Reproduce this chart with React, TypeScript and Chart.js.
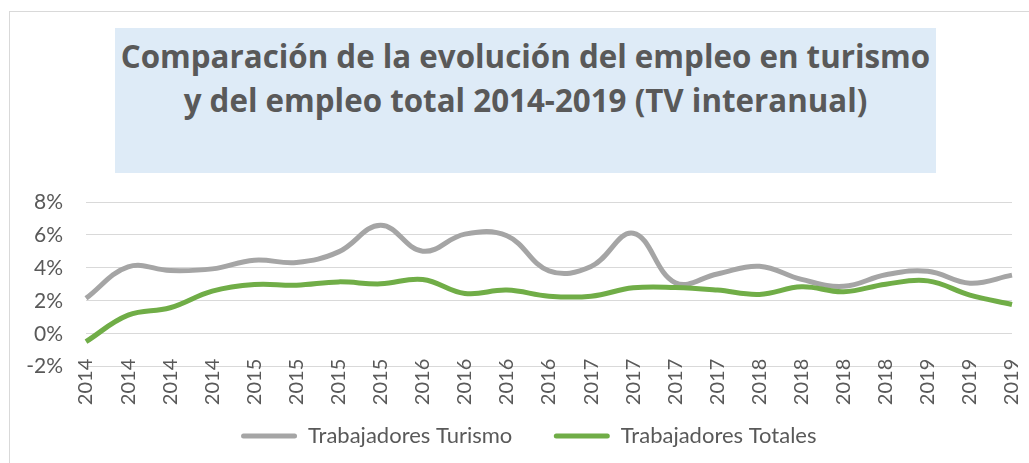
import React, { useEffect, useRef } from "react";
import { Chart, registerables } from "chart.js";

Chart.register(...registerables);

const categories = [
  "2014", "2014", "2014", "2014",
  "2015", "2015", "2015", "2015",
  "2016", "2016", "2016", "2016",
  "2017", "2017", "2017", "2017",
  "2018", "2018", "2018", "2018",
  "2019", "2019", "2019",
];

const turismo = [
  2.15, 4.06, 3.84, 3.94, 4.47, 4.33, 4.97, 6.59, 5.01, 6.05, 5.95, 3.82,
  4.08, 6.1, 3.1, 3.63, 4.1, 3.3, 2.88, 3.58, 3.8, 3.07, 3.56,
];

const totales = [
  -0.48, 1.13, 1.58, 2.59, 2.99, 2.95, 3.15, 3.03, 3.3, 2.45, 2.65, 2.28,
  2.28, 2.79, 2.81, 2.65, 2.39, 2.85, 2.55, 3.01, 3.21, 2.35, 1.78,
];

const yTicks = [-2, 0, 2, 4, 6, 8];

const seriesNames = ["Trabajadores Turismo", "Trabajadores Totales"];

const titleLines = [
  "Comparación de la evolución del empleo en turismo",
  "y del empleo total 2014-2019 (TV interanual)",
];

const TEXT = "#595959";
const FONT = "Lato, 'Open Sans', sans-serif";
const TITLE_FONT = "'Open Sans', Lato, sans-serif";

export default function App() {
  const ref = useRef<HTMLCanvasElement>(null);

  useEffect(() => {
    if (!ref.current) return;
    const legendPad = 41.5;
    const legendFont = 22;
    const legendCenterY = 436;
    const legendCenterX = 528.75;
    const chartBottom = 366.7;

    const legendPlace = {
      id: "legendPlace",
      afterLayout(chart: any) {
        const lg = chart.legend;
        if (!lg) return;
        const h = lg.bottom - lg.top;
        const top = legendCenterY - legendFont / 2 - legendPad;
        lg.top = top;
        lg.bottom = top + h;
        const dx = legendCenterX - (lg.left + lg.right) / 2;
        lg.left += dx;
        lg.right += dx;
      },
    };

    const legendHeight = legendFont + legendPad + 10;
    const padBottom = 463 - chartBottom - legendHeight;

    const chart = new Chart(ref.current, {
      type: "line",
      data: {
        labels: categories,
        datasets: [
          {
            label: seriesNames[0],
            data: turismo,
            borderColor: "#A5A5A5",
            backgroundColor: "#A5A5A5",
            borderWidth: 5,
            pointRadius: 0,
            pointHoverRadius: 0,
            tension: 0.4,
            order: 1,
          },
          {
            label: seriesNames[1],
            data: totales,
            borderColor: "#70AD47",
            backgroundColor: "#70AD47",
            borderWidth: 5,
            pointRadius: 0,
            pointHoverRadius: 0,
            tension: 0.4,
            order: 0,
          },
        ],
      },
      plugins: [legendPlace],
      options: {
        animation: false,
        responsive: false,
        events: [],
        layout: { padding: { top: 202, left: 0, right: 17, bottom: padBottom } },
        plugins: {
          tooltip: { enabled: false },
          title: { display: false },
          legend: {
            display: true,
            position: "bottom",
            labels: {
              boxWidth: 56,
              boxHeight: 5,
              padding: legendPad,
              color: TEXT,
              font: { family: FONT, size: legendFont },
              sort: (a: any, b: any) => a.datasetIndex - b.datasetIndex,
              generateLabels: (c: any) => {
                const items = Chart.defaults.plugins.legend.labels.generateLabels(c);
                return items.map((it: any) => ({ ...it, lineWidth: 0, borderRadius: 2.5 }));
              },
            },
          },
        },
        scales: {
          x: {
            position: { y: 0 } as any,
            grid: { display: false },
            border: { display: false },
            ticks: {
              minRotation: 90,
              maxRotation: 90,
              autoSkip: false,
              padding: 17,
              color: TEXT,
              font: { family: FONT, size: 20 },
            },
            afterFit: (s: any) => {
              s.paddingLeft = 0;
              s.paddingRight = 0;
            },
          },
          y: {
            min: -2,
            max: 8,
            afterBuildTicks: (s: any) => {
              s.ticks = yTicks.map((v) => ({ value: v }));
            },
            grid: { color: "#D9D9D9", lineWidth: 1, drawTicks: false },
            border: { display: false },
            ticks: {
              padding: 23,
              color: TEXT,
              font: { family: FONT, size: 21 },
              callback: (v: any) => `${v}%`,
            },
            afterFit: (s: any) => {
              s.width = 86;
            },
          },
        },
      },
    });
    return () => chart.destroy();
  }, []);

  return (
    <div
      style={{
        position: "absolute",
        left: 0,
        top: 0,
        width: 1029,
        height: 463,
        overflow: "hidden",
        background: "#FFFFFF",
      }}
    >
      <div
        style={{
          position: "absolute",
          left: 9,
          top: 11,
          width: 1200,
          height: 600,
          border: "1px solid #D9D9D9",
        }}
      />
      <div
        style={{
          position: "absolute",
          left: 115,
          top: 28,
          width: 821,
          height: 145,
          background: "#DEEBF7",
        }}
      >
        <div
          style={{
            position: "absolute",
            left: 0,
            top: 6,
            width: "100%",
            textAlign: "center",
            fontFamily: TITLE_FONT,
            fontWeight: 700,
            fontSize: 31.3,
            lineHeight: "44px",
            color: TEXT,
            whiteSpace: "nowrap",
          }}
        >
          {titleLines.map((t, i) => (
            <div key={i}>{t}</div>
          ))}
        </div>
      </div>
      <canvas
        ref={ref}
        width={1029}
        height={463}
        style={{ position: "absolute", left: 0, top: 0, width: 1029, height: 463 }}
      />
    </div>
  );
}
